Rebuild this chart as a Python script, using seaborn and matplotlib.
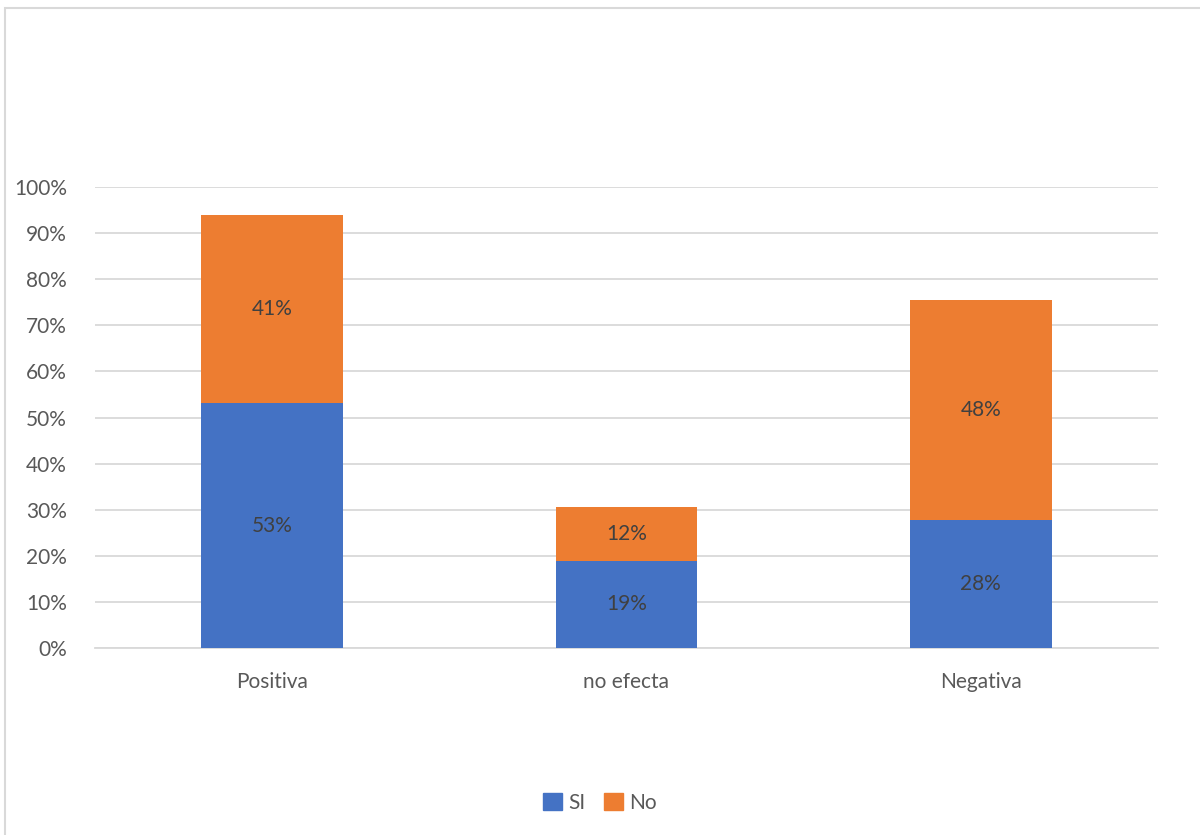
import matplotlib
matplotlib.use("Agg")
import matplotlib.pyplot as plt
import matplotlib.patches as mpatches
import seaborn as sns
import pandas as pd
import numpy as np

categories = ["Positiva", "no efecta", "Negativa"]
si_values = [0.531, 0.189, 0.278]
no_values = [0.408, 0.117, 0.477]
series_names = ["SI", "No"]
yticks = [0.0, 0.1, 0.2, 0.3, 0.4, 0.5, 0.6, 0.7, 0.8, 0.9, 1.0]

BLUE = "#4472C4"
ORANGE = "#ED7D31"
TXT = "#595959"
GRID = "#D9D9D9"

sns.set_style("white")
plt.rcParams["font.family"] = ["Lato", "DejaVu Sans"]

df = pd.DataFrame({"cat": categories, "SI": si_values, "No": no_values})
df["total"] = df["SI"] + df["No"]

fig = plt.figure(figsize=(12, 8.35), dpi=100)
ax = fig.add_axes([0.079, 0.224, 0.886, 0.552])

sns.barplot(data=df, x="cat", y="total", color=ORANGE, width=0.40, ax=ax,
            saturation=1, zorder=3, linewidth=0)
sns.barplot(data=df, x="cat", y="SI", color=BLUE, width=0.40, ax=ax,
            saturation=1, zorder=3, linewidth=0)

for i, (s, n) in enumerate(zip(si_values, no_values)):
    ax.text(i, s / 2, f"{round(s*100):.0f}%", ha="center", va="center",
            fontsize=15, color="#404040", zorder=4)
    ax.text(i, s + n / 2, f"{round(n*100):.0f}%", ha="center", va="center",
            fontsize=15, color="#404040", zorder=4)

ax.set_ylim(0, 1.0)
ax.set_xlim(-0.5, 2.5)
ax.set_yticks(yticks)
ax.set_yticklabels([f"{int(round(t*100))}%" for t in yticks])
ax.yaxis.grid(True, color=GRID, linewidth=1.3, zorder=0)
ax.set_axisbelow(True)
for sp in ["top", "right", "left"]:
    ax.spines[sp].set_visible(False)
ax.spines["bottom"].set_color(GRID)
ax.spines["bottom"].set_linewidth(1.3)
ax.tick_params(axis="both", length=0, labelsize=15, labelcolor=TXT)
ax.tick_params(axis="y", pad=20)
ax.tick_params(axis="x", pad=17)
ax.set_xlabel("")
ax.set_ylabel("")

handles = [mpatches.Patch(color=BLUE, label=series_names[0]),
           mpatches.Patch(color=ORANGE, label=series_names[1])]
fig.legend(handles=handles, loc="center", bbox_to_anchor=(0.5, 1 - 803 / 835),
           ncol=2, frameon=False, fontsize=15, labelcolor=TXT,
           handlelength=0.9, handleheight=0.9, handletextpad=0.3,
           columnspacing=0.9)

border = mpatches.Rectangle((5 / 1200, -0.01), 1.02, 1 - 8 / 835 + 0.01,
                            transform=fig.transFigure, fill=False,
                            edgecolor=GRID, linewidth=1.5)
fig.patches.append(border)

fig.savefig("out.png", dpi=100)
